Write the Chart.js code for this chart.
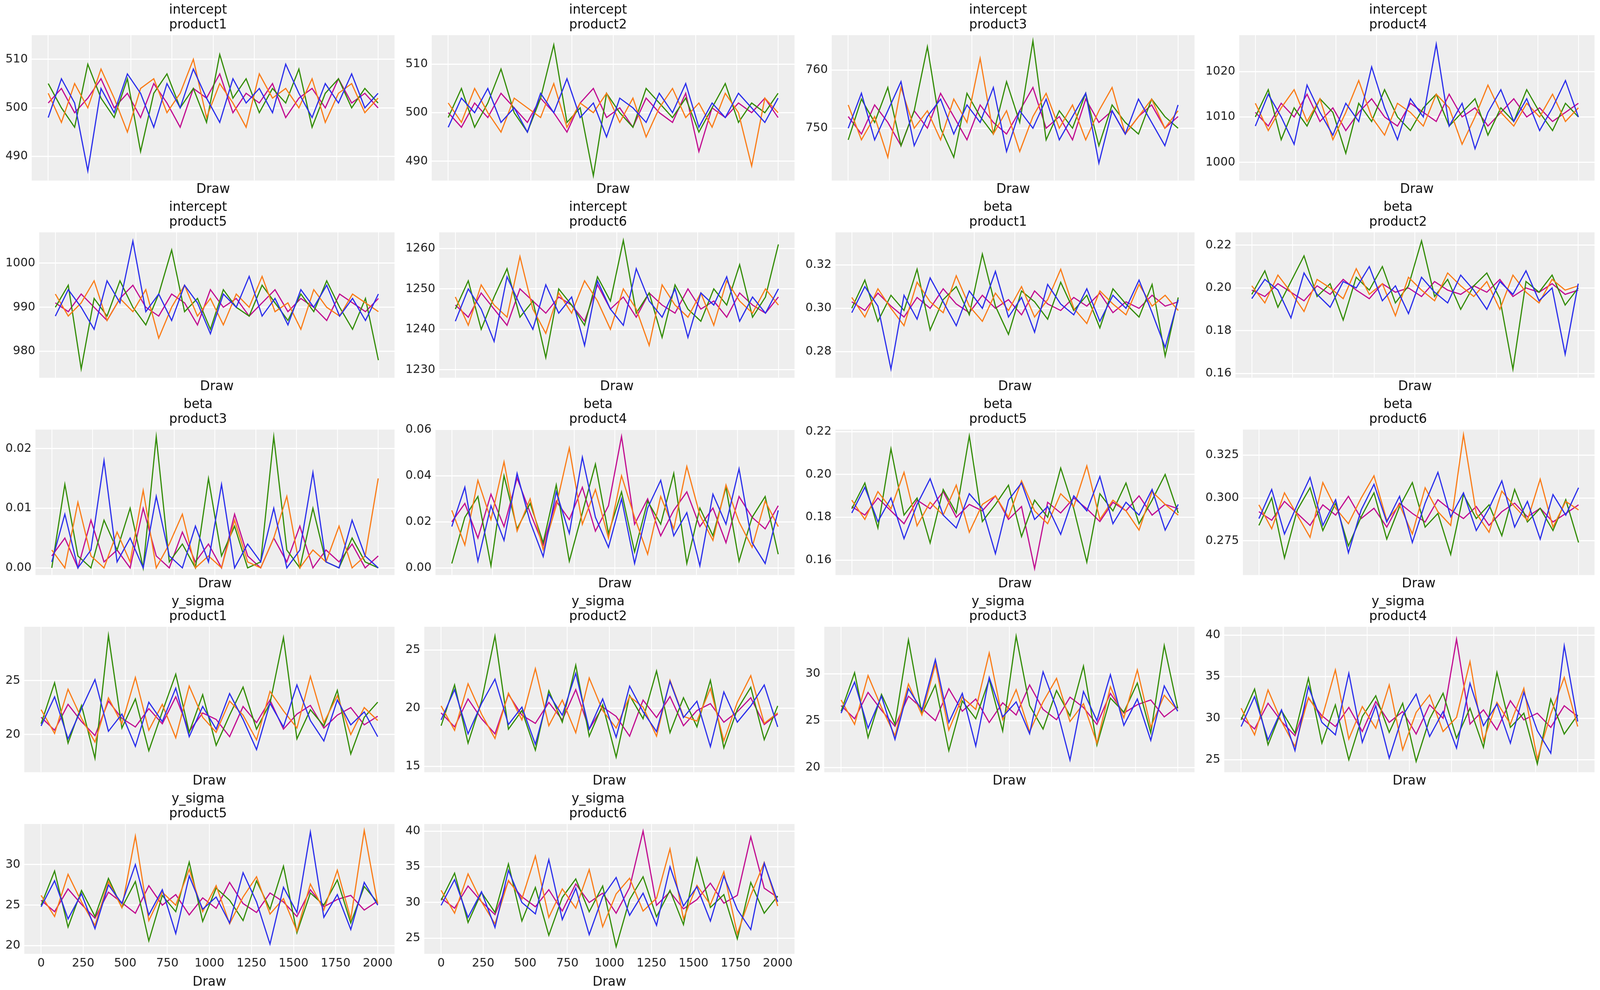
<!DOCTYPE html>
<html><head><meta charset="utf-8">
<script src="https://cdn.jsdelivr.net/npm/chart.js@4/dist/chart.umd.min.js"></script>
<style>
html,body{margin:0;background:#fff;overflow:hidden}
canvas{position:absolute}
</style></head><body>
<script>
// trace plot: 18 panels, 4 chains each (values hand-read, thinned)
const DRAWS = [0,80,160,240,320,400,480,560,640,720,800,880,960,1040,1120,1200,1280,1360,1440,1520,1600,1680,1760,1840,1920,2000];
const CHAIN_COLORS = ['#2a2eec', '#fa7c17', '#328c06', '#c10c90'];
const X_TICKS = [0,250,500,750,1000,1250,1500,1750,2000];

const VARS = ['intercept','intercept','intercept','intercept','intercept','intercept','beta','beta','beta','beta','beta','beta','y_sigma','y_sigma','y_sigma','y_sigma','y_sigma','y_sigma'];
const PRODUCTS = ['product1','product2','product3','product4','product5','product6','product1','product2','product3','product4','product5','product6','product1','product2','product3','product4','product5','product6'];

const Y_TICKS = [
  [490,500,510],[490,500,510],[750,760],[1000,1010,1020],[980,990,1000],[1230,1240,1250,1260],
  [0.28,0.30,0.32],[0.16,0.18,0.20,0.22],[0.00,0.01,0.02],[0.00,0.02,0.04,0.06],[0.16,0.18,0.20,0.22],[0.275,0.300,0.325],
  [20,25],[15,20,25],[20,25,30],[25,30,35,40],[20,25,30],[25,30,35,40]
];
const Y_DEC = [0,0,0,0,0,0,2,2,2,2,2,3,0,0,0,0,0,0];
const Y_MIN = [485,486,741,996,974,1228,0.268,0.158,-0.0012,-0.003,0.153,0.255,16.5,14.5,19.5,23.5,19.0,22.8];
const Y_MAX = [515,516,766,1028,1007,1264,0.335,0.226,0.0232,0.060,0.221,0.340,30.0,27.0,35.0,41.0,35.0,41.0];

const i1 = [
[498,506,501,487,504,499,507,503,496,505,500,508,502,497,506,501,504,499,509,503,498,505,501,507,500,503],
[503,497,505,500,508,502,495,504,506,499,503,510,498,505,501,496,507,502,504,500,506,497,503,505,499,502],
[505,500,496,509,502,498,506,491,503,507,500,504,497,511,502,506,499,504,501,508,496,503,506,500,504,501],
[501,504,499,502,506,500,503,498,505,501,496,504,502,507,499,503,501,505,498,502,504,500,506,501,503,500]];
const i2 = [
[497,503,500,505,498,501,496,504,500,507,499,502,495,503,501,498,504,500,506,497,502,499,504,501,498,503],
[502,498,505,500,496,503,501,499,506,497,502,500,504,498,503,495,501,505,499,502,497,504,500,489,503,500],
[499,505,497,502,509,500,496,503,514,498,501,487,504,500,497,505,502,499,503,496,501,506,498,502,500,504],
[500,497,502,499,504,501,498,503,500,496,502,505,499,501,497,503,500,498,504,492,501,499,502,500,503,499]];
const i3 = [
[750,756,748,753,758,747,752,755,749,754,751,757,746,753,750,755,748,752,756,744,753,749,755,751,747,754],
[754,748,752,745,757,750,753,748,755,751,762,749,753,746,752,756,750,754,748,753,757,749,752,755,750,753],
[748,755,751,757,747,753,764,750,745,756,752,749,758,751,765,748,753,750,756,747,754,751,749,755,752,750],
[752,749,754,751,747,753,750,756,752,748,754,751,749,753,757,750,752,748,755,751,753,749,752,754,750,752]];
const i4 = [
[1008,1015,1010,1004,1017,1011,1006,1013,1009,1021,1012,1005,1014,1010,1026,1008,1013,1003,1011,1016,1009,1014,1007,1012,1018,1010],
[1013,1007,1012,1016,1009,1014,1005,1011,1018,1010,1006,1013,1011,1008,1015,1012,1004,1010,1017,1011,1008,1013,1010,1015,1009,1012],
[1010,1016,1005,1012,1008,1014,1011,1002,1013,1009,1016,1010,1007,1012,1015,1008,1011,1014,1006,1012,1009,1016,1011,1007,1013,1010],
[1011,1008,1013,1010,1015,1009,1012,1007,1011,1014,1010,1008,1013,1011,1009,1015,1010,1012,1008,1011,1014,1010,1012,1009,1011,1013]];
const i5 = [
[988,994,990,985,996,991,1005,989,993,987,995,991,984,993,990,997,988,992,986,994,990,995,988,992,987,993],
[993,988,991,996,987,992,989,994,983,990,995,988,992,986,993,990,997,989,991,985,994,990,988,993,991,989],
[990,995,976,992,988,996,990,986,993,1003,989,992,985,994,990,988,995,991,987,993,989,996,990,985,992,978],
[991,989,993,990,987,992,995,990,988,993,991,986,994,990,992,988,991,994,989,992,990,987,993,991,989,992]];
const i6 = [
[1242,1250,1245,1237,1253,1246,1240,1251,1244,1248,1236,1252,1245,1241,1255,1247,1243,1250,1238,1249,1246,1253,1242,1248,1244,1250],
[1248,1241,1251,1246,1243,1258,1245,1239,1249,1244,1252,1247,1240,1250,1245,1236,1251,1246,1243,1249,1241,1252,1247,1244,1250,1246],
[1245,1252,1240,1248,1255,1243,1247,1233,1250,1246,1241,1253,1247,1262,1244,1249,1238,1251,1245,1242,1250,1246,1256,1243,1248,1261],
[1246,1243,1249,1245,1241,1250,1247,1244,1248,1246,1242,1251,1245,1248,1243,1249,1246,1244,1250,1245,1247,1243,1249,1246,1244,1248]];
const b1 = [
[.298,.310,.301,.272,.306,.295,.314,.303,.292,.308,.300,.317,.296,.305,.289,.311,.302,.297,.309,.294,.306,.300,.313,.298,.282,.304],
[.305,.296,.309,.300,.292,.312,.303,.298,.315,.301,.294,.307,.299,.310,.296,.304,.318,.300,.293,.308,.302,.297,.311,.301,.306,.299],
[.300,.313,.294,.306,.299,.318,.290,.304,.310,.297,.325,.301,.288,.308,.303,.295,.312,.299,.306,.291,.309,.302,.296,.311,.278,.305],
[.303,.299,.307,.301,.296,.305,.300,.309,.302,.298,.306,.300,.304,.297,.308,.302,.299,.305,.301,.307,.298,.303,.300,.306,.301,.303]];
const b2 = [
[.195,.204,.199,.186,.207,.197,.191,.203,.200,.210,.194,.201,.188,.205,.198,.193,.206,.199,.190,.203,.197,.208,.194,.200,.169,.202],
[.201,.193,.206,.198,.189,.204,.200,.195,.209,.197,.202,.187,.205,.199,.194,.207,.201,.196,.203,.190,.206,.198,.193,.204,.199,.201],
[.197,.208,.191,.203,.215,.196,.202,.185,.205,.199,.210,.193,.201,.222,.196,.204,.190,.201,.207,.195,.162,.203,.198,.206,.192,.200],
[.199,.196,.202,.198,.194,.201,.197,.204,.199,.195,.202,.198,.200,.196,.203,.199,.197,.201,.198,.204,.196,.200,.198,.202,.197,.199]];
const b3 = [
[.001,.009,.000,.003,.018,.001,.005,.000,.012,.002,.000,.007,.001,.014,.000,.004,.001,.010,.000,.003,.016,.001,.000,.008,.002,.000],
[.003,.000,.011,.002,.000,.006,.001,.013,.000,.004,.009,.000,.002,.000,.008,.001,.000,.005,.012,.000,.003,.001,.007,.000,.002,.015],
[.000,.014,.002,.000,.008,.003,.010,.000,.022,.001,.004,.000,.015,.002,.007,.000,.001,.022,.003,.000,.010,.001,.000,.005,.001,.000],
[.002,.005,.000,.008,.001,.003,.000,.010,.002,.000,.006,.001,.004,.000,.009,.002,.000,.005,.001,.007,.000,.003,.001,.004,.000,.002]];
const b4 = [
[.018,.035,.003,.027,.012,.041,.020,.005,.033,.015,.048,.022,.009,.030,.002,.026,.038,.014,.024,.001,.032,.019,.043,.011,.002,.025],
[.025,.010,.038,.021,.046,.016,.030,.008,.027,.052,.019,.034,.013,.040,.022,.006,.031,.017,.044,.023,.012,.036,.020,.009,.029,.018],
[.002,.022,.031,.001,.040,.017,.028,.011,.036,.003,.024,.045,.015,.033,.007,.029,.019,.041,.002,.026,.014,.035,.003,.022,.031,.006],
[.020,.028,.013,.032,.018,.039,.024,.010,.029,.021,.035,.016,.027,.057,.019,.030,.014,.025,.033,.018,.026,.011,.031,.022,.017,.027]];
const b5 = [
[.182,.194,.178,.189,.170,.186,.198,.181,.175,.191,.184,.163,.188,.196,.179,.185,.172,.190,.183,.199,.177,.187,.181,.193,.174,.186],
[.188,.179,.192,.184,.201,.176,.187,.181,.195,.173,.186,.190,.180,.197,.183,.177,.191,.185,.204,.179,.188,.183,.174,.192,.186,.181],
[.184,.196,.175,.212,.181,.189,.168,.193,.182,.218,.178,.186,.195,.171,.188,.180,.203,.184,.159,.191,.183,.196,.177,.188,.200,.182],
[.185,.181,.189,.183,.177,.188,.184,.192,.180,.186,.183,.190,.179,.185,.156,.187,.182,.189,.184,.178,.187,.183,.190,.181,.186,.184]];
const b6 = [
[.288,.305,.279,.296,.312,.284,.299,.268,.293,.308,.286,.301,.274,.297,.315,.289,.303,.281,.294,.310,.283,.298,.276,.302,.290,.306],
[.296,.282,.303,.290,.277,.309,.294,.285,.300,.313,.287,.296,.279,.306,.292,.284,.337,.291,.280,.304,.295,.287,.311,.283,.298,.293],
[.284,.300,.265,.293,.306,.281,.297,.272,.289,.303,.276,.295,.309,.283,.291,.267,.302,.288,.296,.278,.305,.286,.294,.281,.299,.274],
[.292,.287,.298,.291,.284,.296,.290,.301,.288,.294,.283,.297,.291,.286,.299,.293,.288,.295,.284,.292,.297,.289,.294,.286,.291,.296]];
const s1 = [
[20.8,23.5,19.6,22.4,25.1,20.3,21.9,18.9,23.0,21.2,24.3,19.8,22.6,20.5,23.8,21.4,18.6,22.9,20.7,24.6,21.3,19.4,23.2,20.9,22.1,19.8],
[22.3,20.1,24.2,21.5,19.3,23.4,21.0,25.3,20.4,22.8,19.7,24.5,21.6,20.2,23.1,21.8,19.5,24.0,22.2,20.6,25.4,21.1,23.6,20.0,22.5,21.3],
[21.0,24.8,19.2,22.7,17.8,29.2,20.6,23.3,18.5,22.1,25.6,20.2,23.7,19.0,21.8,24.4,20.5,22.9,29.0,19.6,22.3,20.8,24.1,18.2,21.6,23.0],
[21.6,20.4,22.8,21.2,19.9,23.1,21.5,20.7,22.4,21.0,23.5,20.3,22.0,21.4,19.8,22.6,21.1,23.2,20.5,21.9,22.7,20.6,21.8,22.5,20.9,21.7]];
const s2 = [
[19.0,21.6,17.8,20.4,22.5,18.6,20.1,16.9,21.2,19.4,23.0,18.2,20.8,17.5,21.9,19.7,18.0,22.3,19.2,20.6,16.7,21.4,18.8,20.2,22.0,18.4],
[20.2,18.1,22.1,19.5,17.4,21.3,19.0,23.4,18.5,20.7,17.9,22.6,19.8,18.3,21.0,20.1,17.6,22.4,19.3,18.9,21.7,17.2,20.5,22.8,18.7,19.6],
[18.5,22.0,17.0,20.6,26.2,18.2,19.8,16.4,21.5,18.8,23.7,17.6,20.3,15.8,21.1,19.1,23.2,17.9,20.9,18.4,22.4,16.6,19.9,21.8,17.3,20.2],
[19.6,18.4,20.8,19.1,17.8,21.2,19.4,18.7,20.5,19.0,21.6,18.2,20.1,19.3,17.6,20.7,19.2,21.0,18.5,19.8,20.4,18.8,19.7,20.9,18.6,19.5]];
const s3 = [
[25.8,29.1,24.2,27.6,23.0,28.4,26.1,31.5,24.8,27.9,22.3,29.6,25.4,27.0,23.6,30.2,26.3,20.8,28.1,25.0,29.9,24.5,27.3,22.9,28.7,26.0],
[27.2,24.6,29.8,26.4,23.4,28.9,25.6,31.0,24.0,27.5,26.2,32.2,25.1,28.3,23.8,27.0,29.5,24.9,26.8,22.6,28.6,25.3,30.4,24.3,27.7,26.1],
[26.0,30.1,23.2,27.8,24.6,33.6,25.7,28.8,21.8,27.1,25.2,29.4,23.9,34.0,26.6,24.1,28.2,25.5,30.8,22.4,27.4,25.9,29.0,23.7,33.0,26.3],
[26.6,25.2,28.0,26.1,24.4,27.6,26.3,25.0,28.4,26.0,27.3,24.8,26.9,25.6,28.8,26.2,25.1,27.5,26.4,24.6,27.9,25.8,26.7,27.2,25.4,26.5]];
const s4 = [
[29.0,32.6,27.4,31.0,26.1,33.8,29.5,28.0,35.4,27.1,31.5,25.2,30.3,32.9,27.8,30.8,26.4,34.2,29.1,31.7,27.0,33.1,28.5,25.8,38.7,29.6],
[31.2,28.0,33.4,29.6,26.6,32.5,30.0,35.8,27.5,31.4,28.8,34.0,26.2,30.7,32.8,28.4,30.1,36.8,27.3,31.9,29.3,33.6,25.1,30.5,34.9,29.0],
[29.8,33.5,26.8,30.9,28.2,34.8,27.0,31.6,25.0,30.2,32.7,28.3,31.8,24.8,29.9,33.0,27.6,31.2,26.5,35.5,28.9,30.6,24.5,32.3,28.1,30.4],
[30.1,28.7,31.8,29.6,27.9,32.4,30.3,29.0,31.3,28.4,32.0,29.5,30.8,28.1,31.6,30.0,39.5,29.3,31.0,28.6,32.1,29.8,30.6,28.9,31.5,30.2]];
const s5 = [
[24.8,28.0,23.3,26.4,22.1,27.5,25.2,30.0,23.8,26.9,21.5,28.6,24.5,26.0,22.8,29.0,25.4,20.2,27.2,24.1,34.0,23.5,26.3,22.0,27.8,25.0],
[26.2,23.6,28.8,25.4,22.5,27.9,24.7,33.5,23.1,26.6,25.0,29.4,24.2,27.4,22.7,26.0,28.5,23.9,25.8,21.8,27.6,24.4,29.3,23.3,34.2,25.1],
[25.0,29.2,22.3,26.8,23.6,28.3,24.7,27.9,20.6,26.2,24.2,30.3,23.0,27.1,25.6,23.1,28.0,24.5,29.8,21.6,26.5,25.0,28.1,22.8,27.3,25.3],
[25.6,24.2,27.0,25.1,23.4,26.6,25.3,24.0,27.4,25.0,26.3,23.8,25.9,24.6,27.8,25.2,24.1,26.5,25.4,23.6,26.9,24.8,25.7,26.2,24.4,25.5]];
const s6 = [
[29.6,33.2,27.9,31.5,26.5,34.5,30.0,28.4,36.0,27.6,32.0,25.5,30.8,33.5,28.2,31.3,26.8,35.0,29.5,32.2,27.4,33.7,29.0,26.2,35.5,30.1],
[31.7,28.5,34.0,30.1,27.0,33.1,30.5,36.5,27.9,31.9,29.2,34.6,26.6,31.2,33.4,28.8,30.6,37.5,27.7,32.4,29.7,34.3,25.6,31.0,35.6,29.5],
[30.3,34.1,27.2,31.4,28.6,35.4,27.4,32.1,25.4,30.7,33.3,28.7,32.3,23.8,30.4,33.6,28.0,31.7,26.9,36.2,29.3,31.1,24.9,32.8,28.5,30.9],
[30.6,29.2,32.3,30.1,28.3,33.0,30.8,29.4,31.8,28.8,32.6,30.0,31.3,28.5,32.1,40.0,29.6,31.5,29.1,30.4,32.7,29.9,31.0,39.2,32.0,30.7]];

const PANELS = [i1,i2,i3,i4,i5,i6,b1,b2,b3,b4,b5,b6,s1,s2,s3,s4,s5,s6];

const plotBg = {
    id: 'plotBg',
    beforeDraw(chart) {
        const a = chart.chartArea;
        const ctx = chart.ctx;
        ctx.save();
        ctx.fillStyle = '#eeeeee';
        ctx.fillRect(a.left, a.top, a.right - a.left, a.bottom - a.top);
        ctx.restore();
    }
};

// lay out in CSS pixels: widths follow viewport width, rows follow viewport height
const W = window.innerWidth, H = window.innerHeight;
const k = W / 5783;
const ky = H / 2535;
const FONT = 'DejaVu Sans';
const COL_W = W / 4, ROW_H = 505 * ky, LAST_H = H - 4 * ROW_H;
const f = (n) => Math.round(n * k);

PANELS.forEach((chains, p) => {
    const col = p % 4, row = Math.floor(p / 4);
    const showX = row === 4;
    const h = showX ? LAST_H : ROW_H;
    const div = document.createElement('div');
    div.style.cssText = `position:absolute;left:${col * COL_W + f(6)}px;top:${row * ROW_H}px;width:${COL_W - f(6)}px;height:${h}px`;
    const canvas = document.createElement('canvas');
    div.appendChild(canvas);
    document.body.appendChild(div);
    const yt = Y_TICKS[p];
    new Chart(canvas, {
        type: 'line',
        data: {
            datasets: chains.map((vals, c) => ({
                data: vals.map((v, j) => ({ x: DRAWS[j], y: v })),
                borderColor: CHAIN_COLORS[c],
                borderWidth: f(4),
                pointRadius: 0,
                tension: 0,
            }))
        },
        options: {
            responsive: true,
            maintainAspectRatio: false,
            animation: false,
            layout: { padding: { left: 0, right: f(20), top: f(4), bottom: 0 } },
            plugins: {
                legend: { display: false },
                tooltip: { enabled: false },
                title: {
                    display: true,
                    text: [VARS[p], PRODUCTS[p]],
                    color: '#111',
                    font: { family: FONT, size: f(46), weight: 'normal', lineHeight: 1.15 },
                    padding: { top: f(6), bottom: f(10) },
                }
            },
            scales: {
                x: {
                    type: 'linear',
                    min: -100, max: 2100,
                    afterBuildTicks: (ax) => { ax.ticks = X_TICKS.map(v => ({ value: v })); },
                    grid: { color: '#ffffff', lineWidth: f(3), drawTicks: false },
                    border: { display: false },
                    ticks: { display: showX, color: '#222', font: { family: FONT, size: f(42) }, padding: f(10), maxRotation: 0, callback: (v) => String(v) },
                    title: { display: true, text: 'Draw', color: '#111', font: { family: FONT, size: f(46) }, padding: { top: f(4), bottom: 0 } },
                },
                y: {
                    min: Y_MIN[p], max: Y_MAX[p],
                    afterBuildTicks: (ax) => { ax.ticks = yt.map(v => ({ value: v })); },
                    grid: { color: '#ffffff', lineWidth: f(4), drawTicks: false },
                    border: { display: false },
                    ticks: {
                        color: '#222', font: { family: FONT, size: f(42) }, padding: f(14),
                        callback: (v) => Number(v).toFixed(Y_DEC[p])
                    },
                }
            }
        },
        plugins: [plotBg]
    });
});
</script>
</body></html>
